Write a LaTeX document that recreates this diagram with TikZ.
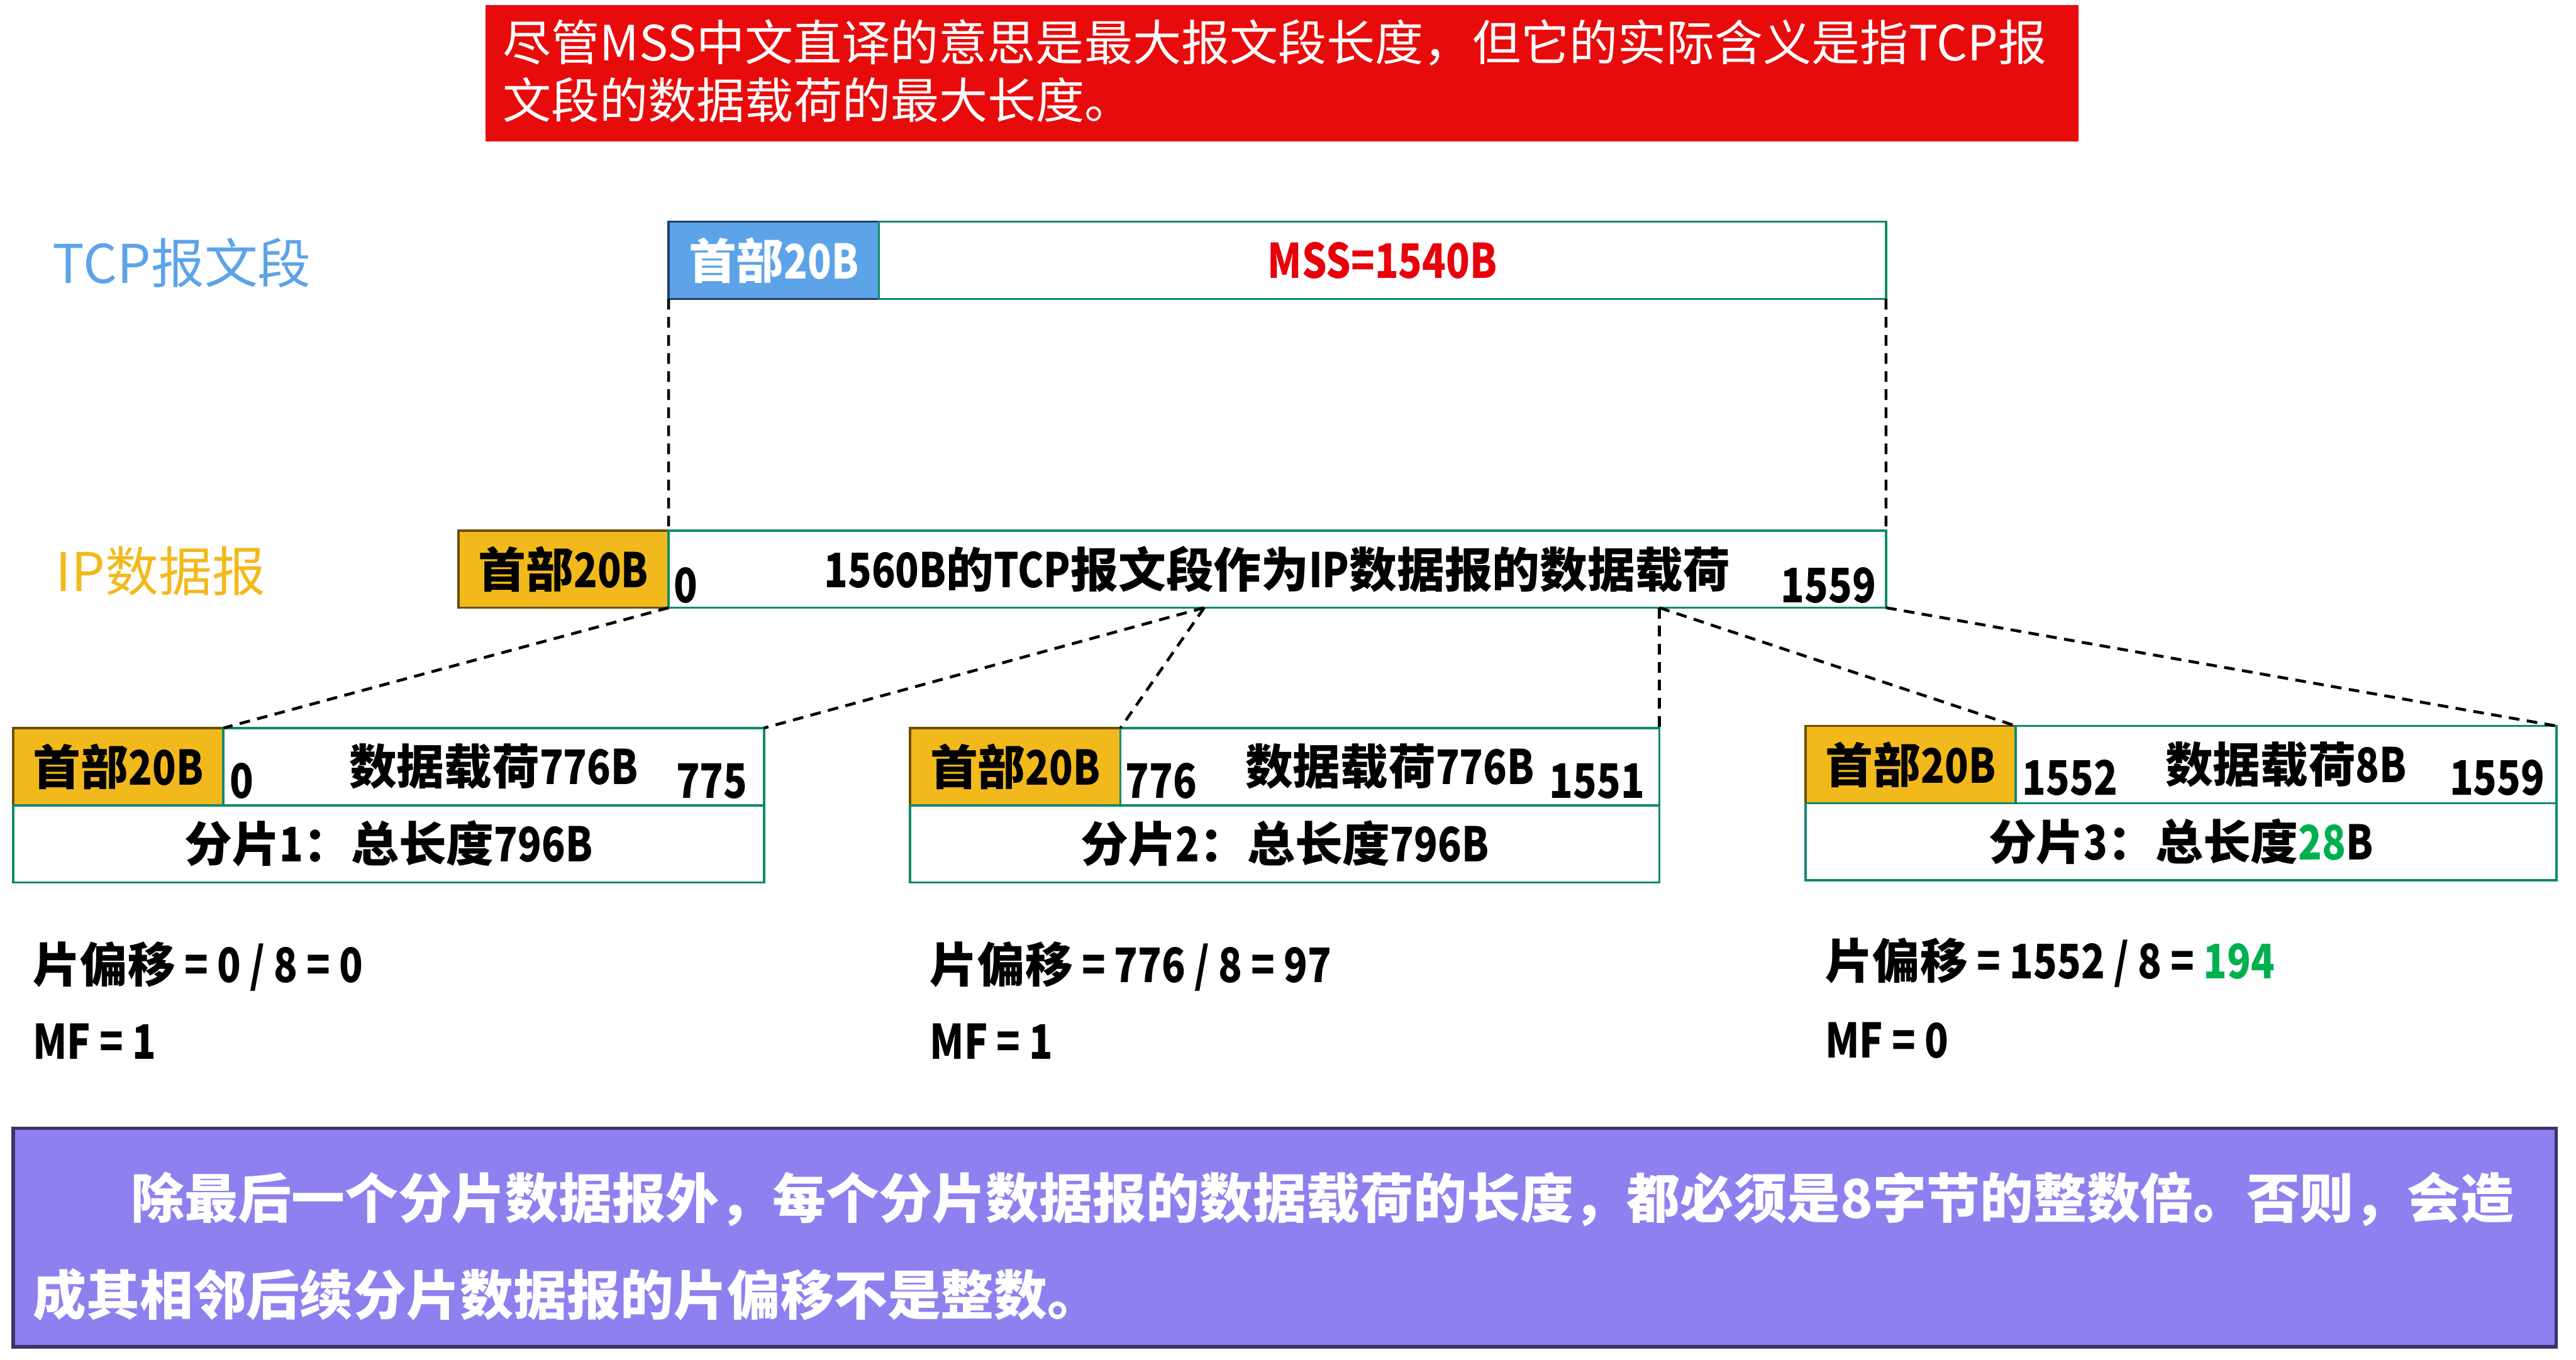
\documentclass[tikz,border=0pt]{standalone}
\usepackage{fontspec}
\setmainfont{Noto Sans CJK SC}
\newfontfamily\narrowfont[FakeStretch=0.82]{Noto Sans CJK SC}
\newcommand{\nar}[1]{{\narrowfont #1}}
\definecolor{notered}{HTML}{E80B0B}
\definecolor{tcpblue}{HTML}{5DA3E8}
\definecolor{hdrnavy}{HTML}{1F3F66}
\definecolor{ipgold}{HTML}{F2B91C}
\definecolor{hdrbrown}{HTML}{6B4E08}
\definecolor{boxteal}{HTML}{0E8A6C}
\definecolor{mssred}{HTML}{E8000B}
\definecolor{okgreen}{HTML}{00B050}
\definecolor{notepurple}{HTML}{8F80F0}
\definecolor{purpleedge}{HTML}{3B3266}
\begin{document}
\begin{tikzpicture}[x=0.2mm,y=-0.2mm,
    every node/.style={inner sep=0pt,outer sep=0pt},
    big/.style={font=\bfseries\fontsize{16.5pt}{19pt}\selectfont},
    num/.style={font=\narrowfont\bfseries\fontsize{16.5pt}{19pt}\selectfont},
    hdrtcp/.style={big,draw=hdrnavy,fill=tcpblue,text=white,line width=0.8pt,
      minimum width=25.6mm,minimum height=9.4mm},
    hdrip/.style={big,draw=hdrbrown,fill=ipgold,line width=0.8pt,
      minimum width=25.6mm,minimum height=9.4mm},
    cell/.style={big,draw=boxteal,fill=white,line width=0.8pt,minimum height=9.4mm},
    link/.style={line width=1pt,dash pattern=on 1.3mm off 0.9mm}]
    \useasboundingbox (0,0) rectangle (1568,828);
    % --- note on top ---
    \fill[notered] (295.5,3) rectangle (1265,86);
    \node[anchor=north west,align=left,text=white,
      font=\fontsize{16.8pt}{19.9pt}\selectfont] (note) at (306,12)
      {尽管MSS中文直译的意思是最大报文段长度，但它的实际含义是指TCP报\\文段的数据载荷的最大长度。};
    % --- TCP segment ---
    \node[anchor=base west,text=tcpblue,font=\fontsize{18.5pt}{20pt}\selectfont]
      (tcplabel) at (32,172.5) {TCP报文段};
    \node[hdrtcp] (tcphdr) at (471,158.5) {首部\nar{20B}};
    \node[cell,text=mssred,minimum width=122.6mm,anchor=west] (mss) at (tcphdr.east)
      {\nar{MSS=1540B}};
    % --- IP datagram ---
    \node[anchor=base west,text=ipgold,font=\fontsize{18.5pt}{20pt}\selectfont]
      (iplabel) at (34,360) {IP数据报};
    \node[hdrip] (iphdr) at (343,346.5) {首部\nar{20B}};
    \node[cell,minimum width=148.2mm,anchor=west] (ipdata) at (iphdr.east)
      {\nar{1560B}的\nar{TCP}报文段作为\nar{IP}数据报的数据载荷};
    \node[num,anchor=base west] (ipfirst) at (410,367) {0};
    \node[num,anchor=base east] (iplast) at (1142,367) {1559};
    \draw[link] (tcphdr.south west) -- (ipdata.north west);
    \draw[link] (mss.south east) -- (ipdata.north east);
    % --- fragment 1 ---
    \node[hdrip] (f1hdr) at (72,466.75) {首部\nar{20B}};
    \node[cell,minimum width=65.8mm,anchor=west] (f1data) at (f1hdr.east) {数据载荷\nar{776B}};
    \node[cell,minimum width=91.4mm,anchor=north west] (f1sum) at (f1hdr.south west)
      {分片\nar{1}：总长度\nar{796B}};
    \node[num,anchor=base west] (f1first) at (140,486) {0};
    \node[num,anchor=base east] (f1last) at (455,486) {775};
    % --- fragment 2 ---
    \node[hdrip] (f2hdr) at (618,466.75) {首部\nar{20B}};
    \node[cell,minimum width=65.6mm,anchor=west] (f2data) at (f2hdr.east) {数据载荷\nar{776B}};
    \node[cell,minimum width=91.2mm,anchor=north west] (f2sum) at (f2hdr.south west)
      {分片\nar{2}：总长度\nar{796B}};
    \node[num,anchor=base west] (f2first) at (685,486) {776};
    \node[num,anchor=base east] (f2last) at (1001,486) {1551};
    % --- fragment 3 ---
    \node[hdrip] (f3hdr) at (1163,465.5) {首部\nar{20B}};
    \node[cell,minimum width=65.8mm,anchor=west] (f3data) at (f3hdr.east) {数据载荷\nar{8B}};
    \node[cell,minimum width=91.4mm,anchor=north west] (f3sum) at (f3hdr.south west)
      {分片\nar{3}：总长度\nar{\textcolor{okgreen}{28}B}};
    \node[num,anchor=base west] (f3first) at (1231,484) {1552};
    \node[num,anchor=base east] (f3last) at (1549,484) {1559};
    % --- where the payload is cut ---
    \coordinate (cut1) at (733,370);
    \coordinate (cut2) at (ipdata.south -| f2data.north east);
    \draw[link] (ipdata.south west) -- (f1data.north west);
    \draw[link] (cut1) -- (f1data.north east);
    \draw[link] (cut1) -- (f2data.north west);
    \draw[link] (cut2) -- (f2data.north east);
    \draw[link] (cut2) -- (f3data.north west);
    \draw[link] (ipdata.south east) -- (f3data.north east);
    % --- offsets and MF ---
    \node[big,anchor=base west] (f1off) at (20,598) {片偏移\nar{ = 0 / 8 = 0}};
    \node[num,anchor=base west] (f1mf) at (20,645) {MF = 1};
    \node[big,anchor=base west] (f2off) at (566,598) {片偏移\nar{ = 776 / 8 = 97}};
    \node[num,anchor=base west] (f2mf) at (566,645) {MF = 1};
    \node[big,anchor=base west] (f3off) at (1111,596)
      {片偏移\nar{ = 1552 / 8 = \textcolor{okgreen}{194}}};
    \node[num,anchor=base west] (f3mf) at (1111,644) {MF = 0};
    % --- rule below ---
    \draw[purpleedge,fill=notepurple,line width=1.2pt] (8,687) rectangle (1556,820);
    \node[anchor=north west,align=left,text=white,
      font=\bfseries\fontsize{18.5pt}{33.6pt}\selectfont] (rule) at (20,713.5)
      {\hspace*{12mm}除最后一个分片数据报外，每个分片数据报的数据载荷的长度，都必须是8字节的整数倍。否则，会造\\成其相邻后续分片数据报的片偏移不是整数。};
  \end{tikzpicture}
\end{document}
